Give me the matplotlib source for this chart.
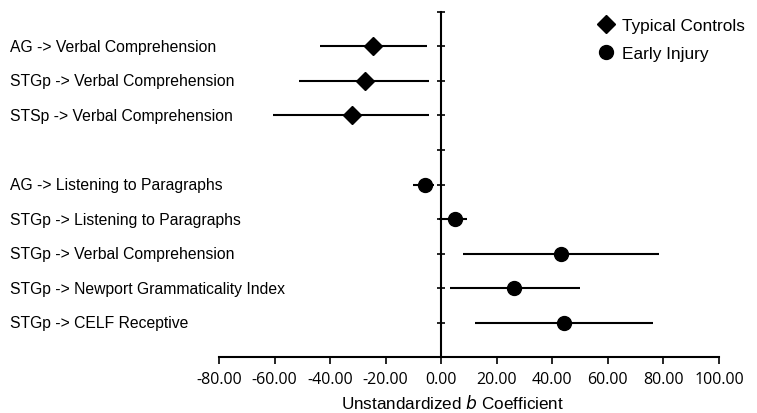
import matplotlib.pyplot as plt
from matplotlib.lines import Line2D

# ---- DATA ----
labels = [
    "AG -> Verbal Comprehension",
    "STGp -> Verbal Comprehension",
    "STSp -> Verbal Comprehension",
    "AG -> Listening to Paragraphs",
    "STGp -> Listening to Paragraphs",
    "STGp -> Verbal Comprehension",
    "STGp -> Newport Grammaticality Index",
    "STGp -> CELF Receptive",
]
groups   = ["tc", "tc", "tc", "ei", "ei", "ei", "ei", "ei"]
slots    = [1, 2, 3, 5, 6, 7, 8, 9]
b_coef   = [-24.4, -27.5, -32.3, -6.0, 4.9, 43.0, 26.3, 44.2]
ci_low   = [-43.5, -51.1, -60.4, -10.3, -0.7, 7.8, 3.1, 12.2]
ci_high  = [-5.3, -4.3, -4.3, -2.5, 9.2, 78.4, 49.8, 76.3]
xticks   = [-80, -60, -40, -20, 0, 20, 40, 60, 80, 100]
legend_labels = ["Typical Controls", "Early Injury"]
# --------------

plt.rcParams['font.family'] = ['Liberation Sans', 'DejaVu Sans']

fig = plt.figure(figsize=(7.57, 4.14), dpi=100)
ax = fig.add_axes([219/757, 55.7/414, 500/757, 345.6/414])

for y, b, lo, hi, g in zip(slots, b_coef, ci_low, ci_high, groups):
    ax.plot([lo, hi], [y, y], color='black', lw=1.5, solid_capstyle='butt')
    if g == "tc":
        ax.plot(b, y, marker='D', ms=9, color='black', zorder=3)
    else:
        ax.plot(b, y, marker='o', ms=10, color='black', zorder=3)

ax.set_xlim(-80, 100)
ax.set_ylim(10, 0)
ax.set_xticks(xticks)
ax.set_xticklabels([f"{v:.2f}" for v in xticks], fontsize=11.5, family='Open Sans')
ax.set_yticks(range(0, 10))
ax.set_yticklabels([])
ax.tick_params(axis='y', direction='inout', length=6, width=1.2)
ax.tick_params(axis='x', direction='out', length=5, width=1.2, pad=5)

ax.spines['left'].set_position(('data', 0))
ax.spines['left'].set_linewidth(1.5)
ax.spines['bottom'].set_linewidth(1.5)
ax.spines['top'].set_visible(False)
ax.spines['right'].set_visible(False)

# category labels, left aligned near the figure edge
trans = ax.get_yaxis_transform()
for y, lab in zip(slots, labels):
    ax.text(-0.418, y, lab, transform=trans, fontsize=11.3, va='center', ha='left')

fig.text(453/757, 2/414, "Unstandardized $\\it{b}$ Coefficient", fontsize=12.3,
         ha='center', va='bottom')

handles = [
    Line2D([], [], marker='D', ls='none', color='black', ms=9),
    Line2D([], [], marker='o', ls='none', color='black', ms=10),
]
fig.legend(handles, legend_labels, loc='upper left',
           bbox_to_anchor=(596/757, 1.0 - 19/414), frameon=False, fontsize=12.4,
           handletextpad=0.3, labelspacing=0.75, handlelength=1.2,
           borderaxespad=0, borderpad=0)

plt.savefig('out.png', dpi=100)
